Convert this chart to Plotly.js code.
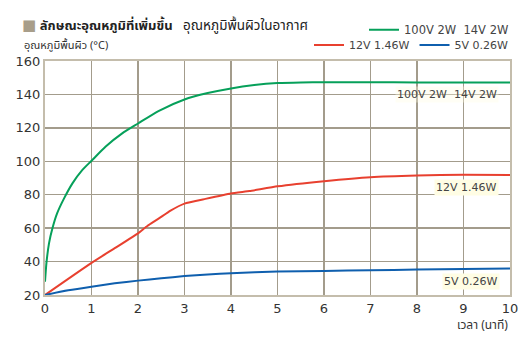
<!DOCTYPE html>
<html>
<head>
<meta charset="utf-8">
<script src="https://cdn.plot.ly/plotly-3.0.1.min.js"></script>
<style>
html,body{margin:0;padding:0;background:#fff;}
#chart{width:530px;height:340px;}
</style>
</head>
<body>
<div id="chart"></div>
<script>
// ---- data ----
const greenName = "100V 2W\u00a0\u00a014V 2W";
const greenX = [0, 0.03, 0.086, 0.16, 0.26, 0.41, 0.59, 0.8, 1, 1.3, 1.66, 2, 2.45, 3, 3.5, 4, 4.5, 5, 5.5, 6, 7, 8, 9, 10];
const greenY = [28, 38.9, 50.9, 59.9, 68.8, 77.8, 86.8, 94.7, 100.3, 108.7, 116.7, 122.6, 130.2, 137, 140.8, 143.6, 145.6, 146.8, 147.2, 147.3, 147.3, 147.2, 147.2, 147.2];

const redName = "12V 1.46W";
const redX = [0, 1, 1.5, 2, 2.2, 2.45, 2.7, 3, 3.45, 4, 4.4, 5, 6, 7, 8, 9, 10];
const redY = [20, 39.2, 48, 56.9, 61.3, 65.8, 70.5, 74.7, 77.5, 80.7, 82.2, 85, 88.1, 90.5, 91.5, 91.9, 91.8];

const blueName = "5V 0.26W";
const blueX = [0, 0.5, 1, 1.5, 2, 2.5, 3, 3.5, 4, 5, 6, 7, 8, 9, 10];
const blueY = [20, 22.8, 25, 27, 28.6, 30, 31.3, 32.3, 33, 34, 34.4, 34.8, 35.2, 35.6, 35.9];

const xTicks = [0, 1, 2, 3, 4, 5, 6, 7, 8, 9, 10];
const yTicks = [20, 40, 60, 80, 100, 120, 140, 160];

const titleBold = "ลักษณะอุณหภูมิที่เพิ่มขึ้น";
const titleRest = "อุณหภูมิพื้นผิวในอากาศ";
const yTitle = "อุณหภูมิพื้นผิว (°C)";
const xTitle = "เวลา (นาที)";

// ---- drawing ----
const FONT = "DejaVu Sans, Noto Sans, sans-serif";
const THAI = "Noto Sans Thai, Noto Sans, DejaVu Sans, sans-serif";
const GRID = "#a39c8c";

const traces = [
  {x: greenX, y: greenY, name: greenName, mode: "lines", line: {color: "#06a05a", width: 2, shape: "spline", smoothing: 0.6}, legend: "legend"},
  {x: redX, y: redY, name: redName, mode: "lines", line: {color: "#e8402f", width: 2, shape: "spline", smoothing: 0.4}, legend: "legend2"},
  {x: blueX, y: blueY, name: blueName, mode: "lines", line: {color: "#0f5fae", width: 2, shape: "spline", smoothing: 0.6}, legend: "legend2"}
];

const layout = {
  width: 530, height: 340,
  margin: {l: 45, r: 20, t: 61, b: 45},
  paper_bgcolor: "#fff", plot_bgcolor: "#fff",
  font: {family: FONT, color: "#333", size: 13},
  showlegend: true,
  title: {
    text: '<span style="color:#a89e8a;font-size:15px">■</span> <b style="font-size:13px">' + titleBold + '</b><span style="font-size:13.5px">\u00a0\u00a0\u00a0' + titleRest + '</span>',
    x: 22/530, xanchor: "left", xref: "container",
    y: 1 - 25/340, yanchor: "middle", yref: "container",
    font: {family: THAI, size: 14, color: "#222"}
  },
  xaxis: {
    range: [0, 10], tickvals: xTicks, ticktext: xTicks.map(String),
    showgrid: true, gridcolor: GRID, gridwidth: 1.5,
    showline: true, linecolor: "#c4bdac", linewidth: 2, mirror: true,
    zeroline: false, ticks: "", ticklen: 0,
    tickfont: {family: FONT, size: 13, color: "#333"}
  },
  yaxis: {
    range: [20, 160], tickvals: yTicks, ticktext: yTicks.map(String),
    showgrid: true, gridcolor: GRID, gridwidth: 1.5,
    showline: true, linecolor: "#c4bdac", linewidth: 2, mirror: true,
    zeroline: false, ticks: "", ticklen: 0,
    tickfont: {family: FONT, size: 13, color: "#333"}
  },
  legend: {
    orientation: "h", x: 1 + 4/465, xanchor: "right", y: 1.134, yanchor: "middle",
    font: {family: FONT, size: 11.5, color: "#444"}, bgcolor: "rgba(0,0,0,0)"
  },
  legend2: {
    orientation: "h", x: 1 + 4/465, xanchor: "right", y: 1.068, yanchor: "middle",
    font: {family: FONT, size: 11, color: "#444"}, bgcolor: "rgba(0,0,0,0)"
  },
  annotations: [
    {text: yTitle, xref: "paper", yref: "paper", x: -23/465, y: (295-45)/234, xanchor: "left", yanchor: "middle",
     showarrow: false, font: {family: THAI, size: 11, color: "#333"}},
    {text: xTitle, xref: "paper", yref: "paper", x: 1, y: -30/234, xanchor: "right", yanchor: "middle",
     showarrow: false, font: {family: THAI, size: 12, color: "#333"}},
    {text: greenName, xref: "x", yref: "y", x: 9.76, y: 139.7, xanchor: "right", yanchor: "middle",
     showarrow: false, font: {family: FONT, size: 11, color: "#444"}, bgcolor: "rgba(255,253,225,0.35)", borderpad: 1},
    {text: redName, xref: "x", yref: "y", x: 9.77, y: 84.5, xanchor: "right", yanchor: "middle",
     showarrow: false, font: {family: FONT, size: 11, color: "#444"}, bgcolor: "#fffde4", borderpad: 1},
    {text: blueName, xref: "x", yref: "y", x: 9.78, y: 27.9, xanchor: "right", yanchor: "middle",
     showarrow: false, font: {family: FONT, size: 11, color: "#444"}, bgcolor: "#fffde4", borderpad: 1}
  ]
};

Plotly.newPlot("chart", traces, layout, {staticPlot: true, displayModeBar: false});
</script>
</body>
</html>
